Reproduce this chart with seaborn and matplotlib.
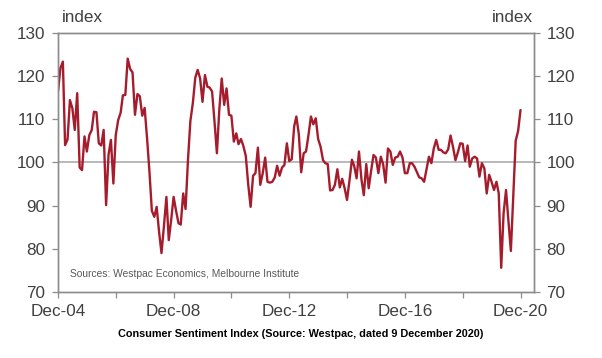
import pandas as pd
import seaborn as sns
import matplotlib.pyplot as plt

# Westpac-MI consumer sentiment, monthly, Dec-04 .. Dec-20
sentiment = [
    116.4,
    121.8, 123.3, 104.0, 105.3, 114.4, 112.5, 107.5, 116.0, 98.8, 98.2, 106.0, 102.5,
    106.3, 107.5, 111.7, 111.6, 104.4, 103.9, 107.5, 90.1, 101.8, 105.2, 95.1, 106.3,
    109.8, 111.5, 115.5, 115.6, 124.0, 121.6, 120.8, 111.0, 115.8, 115.3, 110.8, 112.6,
    105.5, 97.5, 88.8, 87.4, 89.7, 83.8, 79.0, 85.3, 92.0, 82.0, 86.8, 92.0,
    88.8, 85.9, 85.6, 92.8, 89.2, 100.7, 109.6, 113.7, 119.6, 121.4, 119.4, 114.0,
    120.2, 117.5, 117.3, 116.4, 109.6, 102.1, 112.1, 119.4, 113.3, 117.1, 111.0, 110.8,
    104.8, 106.7, 104.2, 105.4, 103.8, 101.5, 95.0, 89.7, 96.9, 97.5, 103.4, 94.8,
    97.5, 101.1, 95.5, 95.3, 95.5, 96.5, 99.2, 96.9, 98.8, 99.4, 104.4, 100.3,
    100.7, 108.3, 110.6, 106.5, 97.7, 102.1, 102.5, 106.3, 110.6, 108.8, 110.2, 105.4,
    103.6, 100.5, 99.8, 99.6, 93.5, 93.6, 94.8, 98.4, 94.2, 96.2, 94.0, 91.3,
    95.8, 100.6, 99.2, 96.3, 102.5, 96.1, 92.4, 99.6, 94.0, 98.0, 101.7, 101.1,
    97.5, 101.3, 99.6, 95.3, 103.2, 102.5, 99.4, 101.1, 101.3, 102.5, 101.1, 97.5,
    97.5, 99.8, 99.8, 99.0, 97.8, 96.5, 96.3, 95.5, 98.5, 101.3, 99.8, 103.2,
    105.2, 102.9, 102.9, 102.3, 102.1, 103.0, 106.2, 103.6, 100.5, 102.3, 104.4, 104.3,
    100.3, 103.9, 99.0, 100.9, 101.3, 100.9, 96.7, 99.8, 98.6, 92.8, 97.1, 95.5,
    93.6, 95.5, 92.8, 75.6, 88.2, 93.6, 86.5, 79.5, 92.6, 105.0, 107.3, 112.1,
]
months = pd.date_range("2004-12-01", periods=len(sentiment), freq="MS")

tick_dates = pd.to_datetime([f"{y}-12-01" for y in range(2004, 2021, 2)])
tick_labels = ["Dec-04", "", "Dec-08", "", "Dec-12", "", "Dec-16", "", "Dec-20"]
y_ticks = [70, 80, 90, 100, 110, 120, 130]

df = pd.DataFrame({"month": months, "index": sentiment})

sns.set_style("ticks")
plt.rcParams["font.family"] = ["Liberation Sans", "DejaVu Sans"]

text_col = "#404040"
axis_col = "#8c8c8c"

fig = plt.figure(figsize=(6.02, 3.58), dpi=100)
ax = fig.add_axes([0.0963, 0.1844, 0.7907, 0.7243])

ax.axhline(100, color="#a6a6a6", lw=1.1, zorder=1)
sns.lineplot(data=df, x="month", y="index", ax=ax, color="#a51c2c", lw=1.7, zorder=3)

ax.set_xlim(pd.Timestamp("2004-12-01"), pd.Timestamp("2021-05-20"))
ax.set_ylim(70, 130)
ax.set_xticks(tick_dates)
ax.set_xticklabels(tick_labels)
ax.set_yticks(y_ticks)
ax.set_xlabel("")
ax.set_ylabel("")

ax2 = ax.twinx()
ax2.set_ylim(70, 130)
ax2.set_yticks(y_ticks)

for a in (ax, ax2):
    for s in a.spines.values():
        s.set_color(axis_col)
        s.set_linewidth(1.0)
    a.tick_params(axis="both", colors=axis_col, labelcolor=text_col,
                  labelsize=12.3, length=4, width=0.9, pad=5)

fig.text(0.103, 0.93, "index", fontsize=12.3, color=text_col, ha="left", va="bottom")
fig.text(0.886, 0.93, "index", fontsize=12.3, color=text_col, ha="right", va="bottom")

ax.text(0.025, 0.07, "Sources: Westpac Economics, Melbourne Institute",
        transform=ax.transAxes, fontsize=7.4, color="#595959", ha="left", va="center")

fig.text(0.5, 0.068, "Consumer Sentiment Index (Source: Westpac, dated 9 December 2020)",
         fontsize=7.8, fontweight="bold", color="black", ha="center", va="center",
         family=["Liberation Sans Narrow", "Liberation Sans"])

fig.savefig("out.png", dpi=100)
